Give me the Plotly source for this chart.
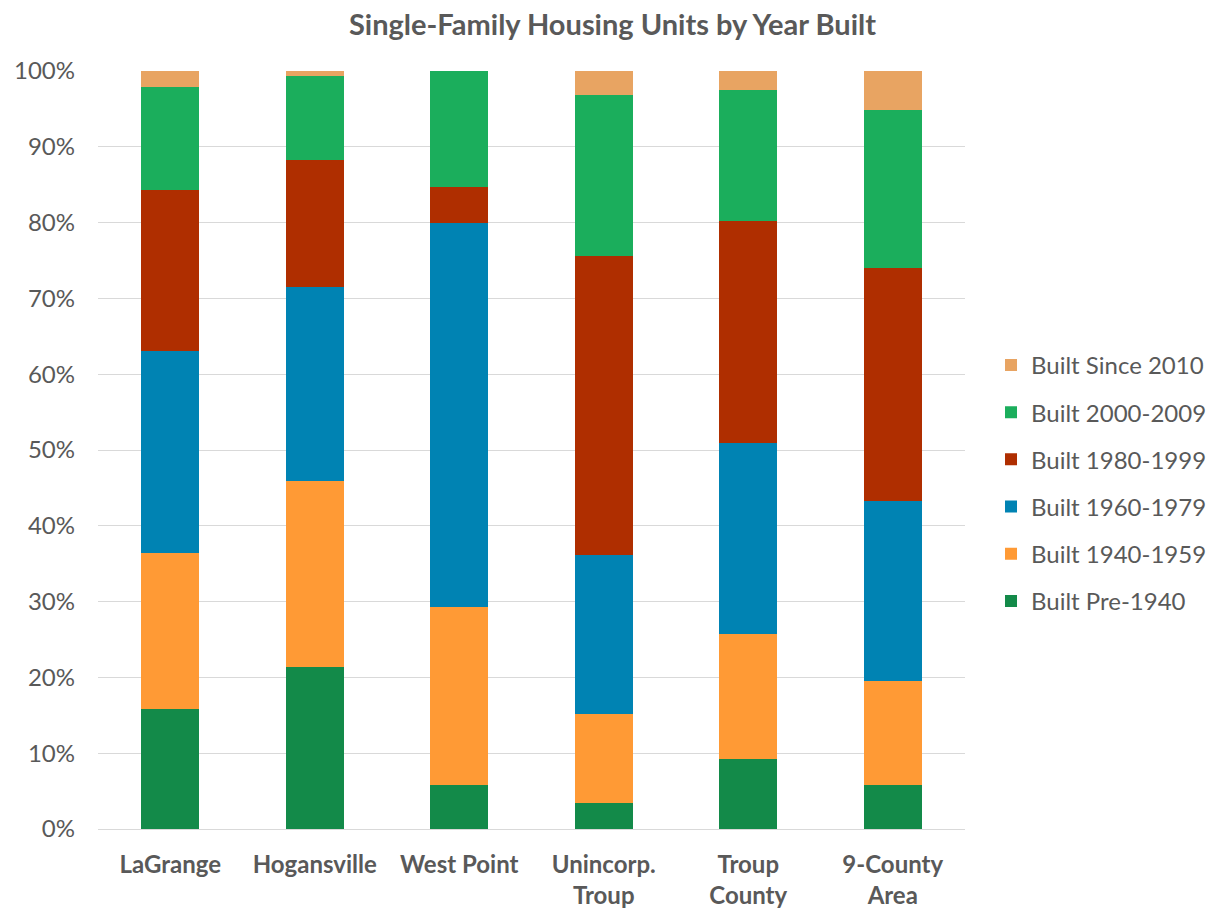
import plotly.graph_objects as go

categories = ["LaGrange", "Hogansville", "West Point", "Unincorp.<br>Troup", "Troup<br>County", "9-County<br>Area"]
pre1940 = [15.8, 21.4, 5.8, 3.4, 9.2, 5.8]
b1940_1959 = [20.6, 24.5, 23.5, 11.8, 16.5, 13.7]
b1960_1979 = [26.7, 25.6, 50.6, 20.9, 25.2, 23.8]
b1980_1999 = [21.2, 16.8, 4.8, 39.5, 29.3, 30.7]
b2000_2009 = [13.6, 11.0, 15.3, 21.2, 17.3, 20.9]
since2010 = [2.1, 0.7, 0.0, 3.2, 2.5, 5.1]

series = [
    ("Built Pre-1940", pre1940, "#138A49"),
    ("Built 1940-1959", b1940_1959, "#FF9A35"),
    ("Built 1960-1979", b1960_1979, "#0083B3"),
    ("Built 1980-1999", b1980_1999, "#AF2E00"),
    ("Built 2000-2009", b2000_2009, "#1BAE5C"),
    ("Built Since 2010", since2010, "#E8A462"),
]

fig = go.Figure()
for i, (name, vals, color) in enumerate(series):
    fig.add_trace(go.Bar(x=categories, y=[v / 100 for v in vals], name=name,
                         legendgroup=name, legendrank=1000 - i * 100,
                         marker=dict(color=color, line=dict(width=0)), width=0.4))

font = "Lato, 'Open Sans', sans-serif"
fig.update_layout(
    barmode="stack",
    width=1209, height=901,
    paper_bgcolor="white", plot_bgcolor="white",
    margin=dict(l=90, r=252, t=63, b=80, autoexpand=False),
    title=dict(text="<b>Single-Family Housing Units by Year Built</b>", x=0.5, xanchor="center",
               y=0.981, yanchor="middle", font=dict(family=font, size=29, color="#595959")),
    font=dict(family=font, size=24, color="#595959"),
    xaxis=dict(tickfont=dict(size=24, color="#595959", family=font), showline=True,
               linecolor="#D9D9D9", linewidth=1, ticks="", ticklabelstandoff=14,
               automargin=False),
    yaxis=dict(range=[0, 1], tickformat=".0%", dtick=0.1, gridcolor="#D9D9D9", gridwidth=1,
               zeroline=False, tickfont=dict(size=24, color="#595959", family=font), ticks="",
               ticklabelstandoff=22, automargin=False),
    legend=dict(traceorder="grouped", x=1.03, xanchor="left", y=0.456, yanchor="middle",
                font=dict(size=24, color="#595959", family=font), tracegroupgap=13,
                itemwidth=30),
    bargap=0.6,
)
fig.update_xaxes(tickangle=0, tickvals=categories,
                 ticktext=["<b>" + c.replace("<br>", "</b><br><b>") + "</b>" for c in categories])
fig.write_html("out.html")
